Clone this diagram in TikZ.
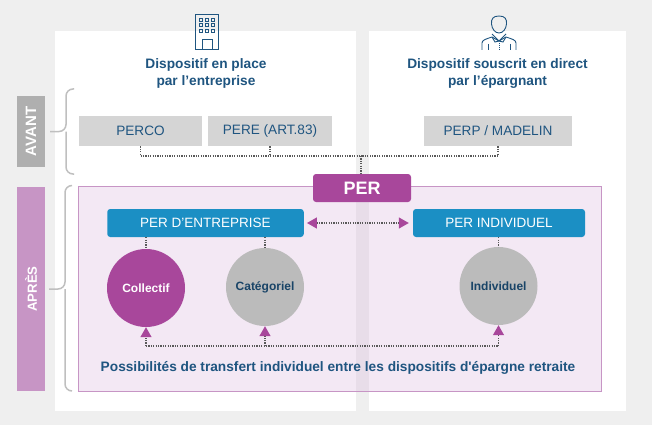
\documentclass[tikz,border=0pt]{standalone}
\usepackage{fontspec}
\setmainfont{Liberation Sans}
\usetikzlibrary{arrows.meta}
\definecolor{fond}{HTML}{EFEFEF}
\definecolor{encre}{HTML}{1F5580}
\definecolor{gris}{HTML}{D5D5D5}
\definecolor{violet}{HTML}{A8479B}
\definecolor{mauve}{HTML}{C795C5}
\definecolor{voile}{HTML}{DAB6DD}
\definecolor{bleu}{HTML}{1B8FC4}
\definecolor{rond}{HTML}{BBBBBB}
\definecolor{pointille}{HTML}{595959}
\definecolor{accolade}{HTML}{BFBFBF}
\tikzset{
    ancien/.style={fill=gris,text=encre,inner sep=0,font=\fontsize{13.6}{16}\selectfont},
    etiquette/.style={text=white,inner sep=0,rotate=90,font=\fontsize{14}{16}\selectfont\bfseries},
    nouveau/.style={fill=bleu,text=white,rounded corners=3pt,inner sep=0,font=\fontsize{13.5}{16}\selectfont},
    cercle/.style={circle,minimum size=78pt,inner sep=0,font=\fontsize{12}{14}\selectfont\bfseries},
    titre/.style={text=encre,align=center,inner sep=0,font=\fontsize{13.7}{17}\selectfont\bfseries},
    lien/.style={draw=pointille,line width=1.2pt,dash pattern=on 1.2pt off 1.2pt},
    fleche/.style={lien,-{Triangle[length=10pt,width=11pt,color=violet]}},
    brace/.style={draw=accolade,line width=1.5pt,rounded corners=7pt},
    icone/.style={draw=encre,line width=0.9pt},
}
\begin{document}
\begin{tikzpicture}[x=1pt,y=-1pt]
    \useasboundingbox (0,0) rectangle (652,425);
    \fill[fond] (0,0) rectangle (652,425);
    \fill[white] (55,31) rectangle (356,411);
    \fill[white] (369,31) rectangle (626,411);

    \fill[voile,fill opacity=0.3] (78.5,186.5) rectangle (601.5,391.5);
    \draw[draw=mauve,line width=1.5pt] (78.5,186.5) rectangle (601.5,391.5);

    \node[fill=accolade!75!gray,minimum width=28pt,minimum height=71pt,inner sep=0] (avantbox) at (31,131.5) {};
    \node[etiquette,font=\fontsize{15}{16}\selectfont\bfseries] (avant) at (avantbox.center) {AVANT};
    \node[fill=mauve,minimum width=28pt,minimum height=204pt,inner sep=0] (apresbox) at (31,289) {};
    \node[etiquette,font=\fontsize{13.2}{16}\selectfont\bfseries] (apres) at (apresbox.center) {APRÈS};

    \draw[brace] (74,89) -- (66,89) -- (66,131.5) -- (50,131.5);
    \draw[brace] (74,174) -- (66,174) -- (66,131.5);
    \draw[brace] (72,185.5) -- (65,185.5) -- (65,289) -- (49,289);
    \draw[brace] (72,391) -- (65,391) -- (65,289);

    \node[ancien,minimum width=123pt,minimum height=30.5pt] (perco) at (140.5,131) {PERCO};
    \node[ancien,minimum width=124.5pt,minimum height=30.5pt] (pere) at (270,131) {PERE (ART.83)};
    \node[ancien,minimum width=148pt,minimum height=30.5pt] (perp) at (498,131) {PERP / MADELIN};

    \node[titre] (titreentreprise) at (206,73.5) {Dispositif en place\\par l’entreprise};
    \node[titre] (titreepargnant) at (497.5,73.5) {Dispositif souscrit en direct\\par l’épargnant};

    \node[fill=violet,text=white,rounded corners=3pt,minimum width=98pt,minimum height=28pt,inner sep=0,font=\fontsize{18}{20}\selectfont\bfseries] (per) at (362,188) {PER};
    \node[nouveau,minimum width=196.5pt,minimum height=28pt] (entreprise) at (205.5,223) {PER D’ENTREPRISE};
    \node[nouveau,minimum width=172pt,minimum height=28pt] (individuel) at (499,223) {PER INDIVIDUEL};

    \node[cercle,fill=violet,text=white] (collectif) at (146,288) {Collectif};
    \node[cercle,fill=rond,text=encre!80!black] (categoriel) at (265,287) {Catégoriel};
    \node[cercle,fill=rond,text=encre!80!black] (indiv) at (498.5,286) {Individuel};

    \coordinate (busavant) at (361,156);
    \coordinate (bustransfert) at (146,346);

    \draw[lien] (perco.south) |- (busavant);
    \draw[lien] (perp.south) |- (busavant);
    \draw[lien] (pere.south) -- (pere.south |- busavant);
    \draw[lien] (busavant) -- (busavant |- per.north);

    \draw[lien] (collectif.north |- entreprise.south) -- (collectif.north);
    \draw[lien] (categoriel.north |- entreprise.south) -- (categoriel.north);
    \draw[lien] (indiv.north |- individuel.south) -- (indiv.north);

    \draw[fleche,{Triangle[length=10pt,width=11pt,color=violet]}-{Triangle[length=10pt,width=11pt,color=violet]},shorten <=3pt,shorten >=4pt] (entreprise.east) -- (individuel.west);

    \draw[lien] (bustransfert) -- (bustransfert -| indiv.south);
    \draw[fleche] (bustransfert) -- (collectif.south);
    \draw[fleche] (bustransfert -| categoriel.south) -- (categoriel.south);
    \draw[fleche] (bustransfert -| indiv.south) -- (indiv.south);

    \node[text=encre,inner sep=0,font=\fontsize{13.7}{15}\selectfont\bfseries] (transfert) at (338,367.5) {Possibilités de transfert individuel entre les dispositifs d\textquotesingle épargne retraite};

    \draw[icone] (195.5,14.5) rectangle (218.5,49.5);
    \draw[icone] (202,39) rectangle (212,49.5);
    \foreach \i in {0,1,2} {
        \foreach \j in {0,1,2} {
            \draw[icone,line width=0.7pt] (199+\i*6,18+\j*5.5) rectangle ++(3.5,3);
        }
    }

    \draw[icone] (499,16) .. controls (493,16) and (491,19) .. (491.5,24) .. controls (492,29) and (495,33) .. (499,33) .. controls (503,33) and (506,29) .. (506.5,24) .. controls (507,19) and (505,16) .. (499,16);
    \draw[icone] (482,50) -- (482,43) .. controls (482,40) and (486,39) .. (492,37) -- (499,41) -- (506,37) .. controls (512,39) and (516,40) .. (516,43) -- (516,50);
    \draw[icone] (492,34) -- (499,41) -- (506,34);
    \draw[icone] (492,37) -- (495,42) -- (499,41) -- (503,42) -- (506,37);
    \draw[icone,densely dotted] (499,43) -- (499,50);
    \draw[icone] (488,44) -- (488,50);
    \draw[icone] (510,44) -- (510,50);
\end{tikzpicture}
\end{document}
